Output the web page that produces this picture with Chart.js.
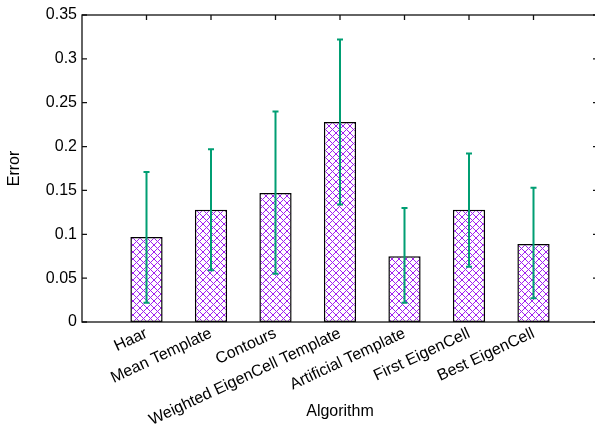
<!DOCTYPE html>
<html>
<head>
<meta charset="utf-8">
<script src="https://cdn.jsdelivr.net/npm/chart.js@4.4.0/dist/chart.umd.min.js"></script>
<style>
  html, body { margin: 0; padding: 0; background: #fff; overflow: hidden; }
  #wrap { width: 595px; height: 428px; overflow: hidden; }
</style>
</head>
<body>
<div id="wrap"><canvas id="chart" width="600" height="428"></canvas></div>
<script>
// Data
const categories = ['Haar', 'Mean Template', 'Contours', 'Weighted EigenCell Template',
                    'Artificial Template', 'First EigenCell', 'Best EigenCell'];
const meanError = [0.097, 0.128, 0.147, 0.228, 0.075, 0.128, 0.089];
const errLow    = [0.022, 0.059, 0.055, 0.134, 0.022, 0.063, 0.027];
const errHigh   = [0.171, 0.197, 0.240, 0.322, 0.130, 0.192, 0.153];
const yTicks    = [0, 0.05, 0.1, 0.15, 0.2, 0.25, 0.3, 0.35];

const FONT = { family: '"Liberation Sans", Arial, sans-serif', size: 16 };

// Crosshatch fill like gnuplot's pattern fill
function makeHatch() {
    const n = 7;
    const c = document.createElement('canvas');
    c.width = n; c.height = n;
    const g = c.getContext('2d');
    g.fillStyle = '#fff';
    g.fillRect(0, 0, n, n);
    g.strokeStyle = '#a020f0';
    g.lineWidth = 1;
    g.beginPath();
    g.moveTo(0, 0); g.lineTo(n, n);
    g.moveTo(n, 0); g.lineTo(0, n);
    g.stroke();
    return g.createPattern(c, 'repeat');
}

// Pad the category axis with an empty slot at each end (xrange -1..7)
const labels = [''].concat(categories, ['']);
const barData = [null].concat(meanError, [null]);

const framePlugin = {
    id: 'frame',
    afterDatasetsDraw(chart) {
        const ctx = chart.ctx;
        const a = chart.chartArea;
        const xs = chart.scales.x;
        const ys = chart.scales.y;

        // error bars
        ctx.save();
        ctx.strokeStyle = '#009e73';
        ctx.lineWidth = 2;
        for (let i = 0; i < categories.length; i++) {
            const x = xs.getPixelForValue(i + 1);
            const yl = ys.getPixelForValue(errLow[i]);
            const yh = ys.getPixelForValue(errHigh[i]);
            ctx.beginPath();
            ctx.moveTo(x, yl); ctx.lineTo(x, yh);
            ctx.moveTo(x - 3, yl); ctx.lineTo(x + 3, yl);
            ctx.moveTo(x - 3, yh); ctx.lineTo(x + 3, yh);
            ctx.stroke();
        }
        ctx.restore();

        // border and inward ticks
        ctx.save();
        ctx.strokeStyle = '#111';
        ctx.lineWidth = 1.3;
        ctx.strokeRect(a.left, a.top, a.right - a.left, a.bottom - a.top);
        ctx.beginPath();
        yTicks.forEach(function(v) {
            const y = ys.getPixelForValue(v);
            ctx.moveTo(a.left, y); ctx.lineTo(a.left + 5, y);
            ctx.moveTo(a.right, y); ctx.lineTo(a.right - 5, y);
        });
        for (let i = 0; i < categories.length; i++) {
            const x = xs.getPixelForValue(i + 1);
            ctx.moveTo(x, a.top); ctx.lineTo(x, a.top + 5);
        }
        ctx.stroke();
        ctx.restore();
    }
};

new Chart(document.getElementById('chart'), {
    type: 'bar',
    data: {
        labels: labels,
        datasets: [{
            data: barData,
            backgroundColor: makeHatch(),
            borderColor: '#000',
            borderWidth: 1.5,
            borderSkipped: false,
            categoryPercentage: 1,
            barPercentage: 0.5
        }]
    },
    options: {
        responsive: false,
        animation: false,
        layout: { padding: { left: 4, top: 15, right: 2, bottom: 2 } },
        plugins: { legend: { display: false }, tooltip: { enabled: false } },
        scales: {
            x: {
                offset: false,
                grid: { display: false, drawTicks: false },
                border: { display: false },
                ticks: {
                    color: '#000', font: FONT, padding: 2,
                    autoSkip: false, minRotation: 25, maxRotation: 25
                },
                title: { display: true, text: 'Algorithm', color: '#000', font: FONT,
                         padding: { top: 5, bottom: 5 } },
                afterFit: function(s) {
                    s.height = 104;
                    s.paddingLeft = 0;
                    s.paddingRight = 0;
                }
            },
            y: {
                min: 0, max: 0.35,
                grid: { display: false, drawTicks: false },
                border: { display: false },
                afterBuildTicks: function(s) {
                    s.ticks = yTicks.map(function(v) { return { value: v }; });
                },
                ticks: {
                    color: '#000', font: FONT, padding: 5,
                    callback: function(v) { return String(v); }
                },
                title: { display: true, text: 'Error', color: '#000', font: FONT,
                         padding: { top: 1, bottom: 0 } },
                afterFit: function(s) { s.width = 78; }
            }
        }
    },
    plugins: [framePlugin]
});
</script>
</body>
</html>
